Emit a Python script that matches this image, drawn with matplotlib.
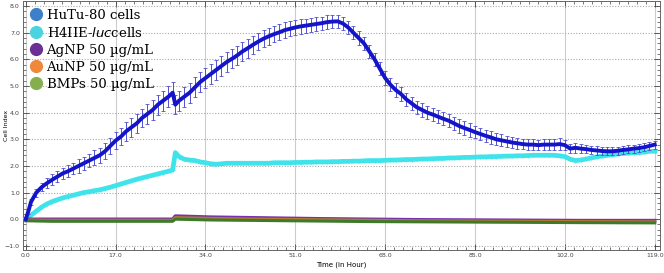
import matplotlib.pyplot as plt
from matplotlib.lines import Line2D
from matplotlib.ticker import MultipleLocator

# Data
hours = [0, 0.5, 1, 2, 3, 4, 5, 6, 7, 8, 9, 10, 11, 12, 13, 14, 15, 16, 17, 18, 19,
         20, 21, 22, 23, 24, 25, 26, 27, 27.8, 28.3, 29, 30, 31, 32, 33, 34, 35, 36,
         37, 38, 39, 40, 41, 42, 43, 44, 45, 46, 47, 48, 49, 50, 51, 52, 53, 54, 55,
         56, 57, 58, 59, 60, 61, 62, 63, 64, 65, 66, 67, 68, 69, 70, 71, 72, 73, 74,
         75, 76, 77, 78, 79, 80, 81, 82, 83, 84, 85, 86, 87, 88, 89, 90, 91, 92, 93,
         94, 95, 96, 97, 98, 99, 100, 101, 102, 103, 104, 105, 106, 107, 108, 109,
         110, 111, 112, 113, 114, 115, 116, 117, 118, 119]

hutu = [0.0, 0.3, 0.65, 1.0, 1.2, 1.35, 1.48, 1.6, 1.72, 1.8, 1.9, 2.0, 2.1, 2.2, 2.3,
        2.4, 2.55, 2.75, 2.95, 3.1, 3.3, 3.45, 3.6, 3.8, 3.95, 4.1, 4.3, 4.45, 4.6,
        4.75, 4.3, 4.45, 4.6, 4.75, 4.95, 5.15, 5.3, 5.45, 5.6, 5.75, 5.9, 6.02, 6.15,
        6.3, 6.42, 6.55, 6.67, 6.78, 6.87, 6.95, 7.02, 7.1, 7.15, 7.2, 7.24, 7.27, 7.3,
        7.33, 7.36, 7.4, 7.42, 7.43, 7.35, 7.2, 7.0, 6.8, 6.6, 6.3, 6.0, 5.65, 5.3,
        5.05, 4.85, 4.7, 4.5, 4.35, 4.2, 4.1, 4.0, 3.93, 3.85, 3.77, 3.7, 3.6, 3.5,
        3.42, 3.35, 3.27, 3.2, 3.13, 3.07, 3.0, 2.96, 2.92, 2.88, 2.85, 2.82, 2.8, 2.8,
        2.78, 2.8, 2.8, 2.8, 2.82, 2.78, 2.65, 2.68, 2.65, 2.63, 2.6, 2.58, 2.56, 2.55,
        2.55, 2.57, 2.6, 2.62, 2.65, 2.67, 2.7, 2.75, 2.8]

hutu_err = [0.05, 0.1, 0.12, 0.15, 0.15, 0.18, 0.2, 0.2, 0.2, 0.22, 0.22, 0.25, 0.25,
            0.25, 0.28, 0.28, 0.3, 0.3, 0.32, 0.32, 0.35, 0.35, 0.35, 0.35, 0.38, 0.38,
            0.38, 0.38, 0.4, 0.42, 0.35, 0.38, 0.38, 0.38, 0.38, 0.38, 0.38, 0.38, 0.38,
            0.36, 0.36, 0.36, 0.35, 0.35, 0.35, 0.33, 0.33, 0.32, 0.32, 0.3, 0.3, 0.3,
            0.28, 0.28, 0.28, 0.26, 0.26, 0.26, 0.25, 0.25, 0.25, 0.25, 0.25, 0.25,
            0.25, 0.25, 0.25, 0.25, 0.25, 0.25, 0.25, 0.25, 0.25, 0.25, 0.25, 0.25,
            0.25, 0.25, 0.25, 0.25, 0.25, 0.25, 0.25, 0.25, 0.25, 0.25, 0.25, 0.24,
            0.24, 0.23, 0.23, 0.22, 0.22, 0.22, 0.22, 0.2, 0.2, 0.2, 0.2, 0.2, 0.2, 0.2,
            0.22, 0.22, 0.2, 0.18, 0.18, 0.18, 0.16, 0.16, 0.16, 0.15, 0.15, 0.15, 0.15,
            0.15, 0.15, 0.15, 0.15, 0.15, 0.15, 0.15]

h4iie = [0.0, 0.08, 0.15, 0.3, 0.45, 0.57, 0.66, 0.73, 0.8, 0.85, 0.9, 0.95, 1.0, 1.03,
         1.07, 1.1, 1.15, 1.2, 1.26, 1.32, 1.38, 1.44, 1.5, 1.55, 1.6, 1.65, 1.7, 1.75,
         1.8, 1.85, 2.5, 2.35, 2.25, 2.22, 2.2, 2.15, 2.12, 2.08, 2.06, 2.08, 2.1, 2.1,
         2.1, 2.1, 2.1, 2.1, 2.1, 2.1, 2.1, 2.12, 2.12, 2.12, 2.12, 2.13, 2.13, 2.14,
         2.14, 2.15, 2.15, 2.15, 2.16, 2.16, 2.17, 2.17, 2.18, 2.18, 2.19, 2.2, 2.2,
         2.2, 2.21, 2.22, 2.22, 2.23, 2.24, 2.24, 2.25, 2.26, 2.26, 2.27, 2.28, 2.28,
         2.3, 2.3, 2.31, 2.32, 2.32, 2.33, 2.34, 2.34, 2.35, 2.35, 2.36, 2.37, 2.37,
         2.38, 2.38, 2.39, 2.4, 2.4, 2.4, 2.4, 2.4, 2.38, 2.35, 2.25, 2.2, 2.22, 2.26,
         2.3, 2.34, 2.37, 2.4, 2.42, 2.45, 2.47, 2.48, 2.5, 2.5, 2.52, 2.55, 2.55]

hours_np = [0, 5, 10, 15, 20, 27.8, 28.3, 35, 45, 55, 65, 75, 85, 95, 105, 119]
agnp = [0.0, 0.0, 0.0, 0.0, 0.0, 0.0, 0.12, 0.08, 0.05, 0.02, 0.0, -0.02, -0.03, -0.04,
        -0.05, -0.05]
aunp = [-0.03, -0.04, -0.04, -0.04, -0.04, -0.04, 0.06, 0.03, 0.0, -0.02, -0.04, -0.06,
        -0.07, -0.08, -0.09, -0.1]
bmps = [-0.06, -0.08, -0.08, -0.08, -0.08, -0.08, 0.0, -0.03, -0.05, -0.07, -0.09,
        -0.1, -0.11, -0.12, -0.13, -0.14]

legend_labels = ['HuTu-80 cells', 'H4IIE-$\\it{luc}$cells', 'AgNP 50 \u00b5g/mL',
                 'AuNP 50 \u00b5g/mL', 'BMPs 50 \u00b5g/mL']
legend_colors = ['#3d7fc9', '#4cd3e0', '#6b3096', '#f0883c', '#86ad4e']

fig = plt.figure(figsize=(6.64, 2.73), dpi=100)
ax = fig.add_axes([0.034, 0.085, 0.96, 0.912])

ax.errorbar(hours, hutu, yerr=hutu_err, color='#1414c8', ecolor='#5050d0',
            elinewidth=0.7, capsize=1.2, capthick=0.6, lw=2.8, zorder=4)
ax.plot(hours, h4iie, color='#3fe3ea', lw=3.4, marker='+', ms=3, mew=0.6, zorder=3)
ax.plot(hours_np, agnp, color='#7a2fb0', lw=2.4, zorder=3)
ax.plot(hours_np, aunp, color='#b07a30', lw=2.2, zorder=3)
ax.plot(hours_np, bmps, color='#3f7a2a', lw=2.2, zorder=3)

ax.set_xlim(-0.6, 120)
ax.set_ylim(-1.15, 8.2)
ax.set_xticks([0, 17, 34, 51, 68, 85, 102, 119])
ax.set_yticks(range(-1, 9))
ax.xaxis.set_minor_locator(MultipleLocator(1.7))
ax.yaxis.set_minor_locator(MultipleLocator(0.2))
ax.xaxis.set_major_formatter('{x:.1f}')
ax.yaxis.set_major_formatter('{x:.1f}')
ax.tick_params(which='both', direction='in', labelsize=4.5, colors='#444444',
               top=True, right=True, pad=2)
ax.tick_params(which='major', length=4, width=0.6)
ax.tick_params(which='minor', length=2, width=0.5)
ax.grid(axis='x', color='#cccccc', lw=0.8)
ax.grid(axis='y', color='#aaaaaa', lw=0.8, ls=(0, (1, 1.5)))
for s in ax.spines.values():
    s.set_color('#666666')
    s.set_linewidth(0.7)

ax.set_xlabel('Time (in Hour)', fontsize=5, labelpad=3)
ax.set_ylabel('Cell Index', fontsize=4.5)
ax.yaxis.set_label_coords(-0.021, 0.5)

handles = [Line2D([], [], ls='', marker='o', ms=8.5, color=c) for c in legend_colors]
ax.legend(handles, legend_labels, loc='upper left', bbox_to_anchor=(-0.008, 1.01),
          frameon=False, prop={'family': 'DejaVu Serif', 'size': 9.5},
          handletextpad=0.2, labelspacing=0.3, borderpad=0.3, handlelength=1.2)

fig.savefig('out.png', dpi=100)
